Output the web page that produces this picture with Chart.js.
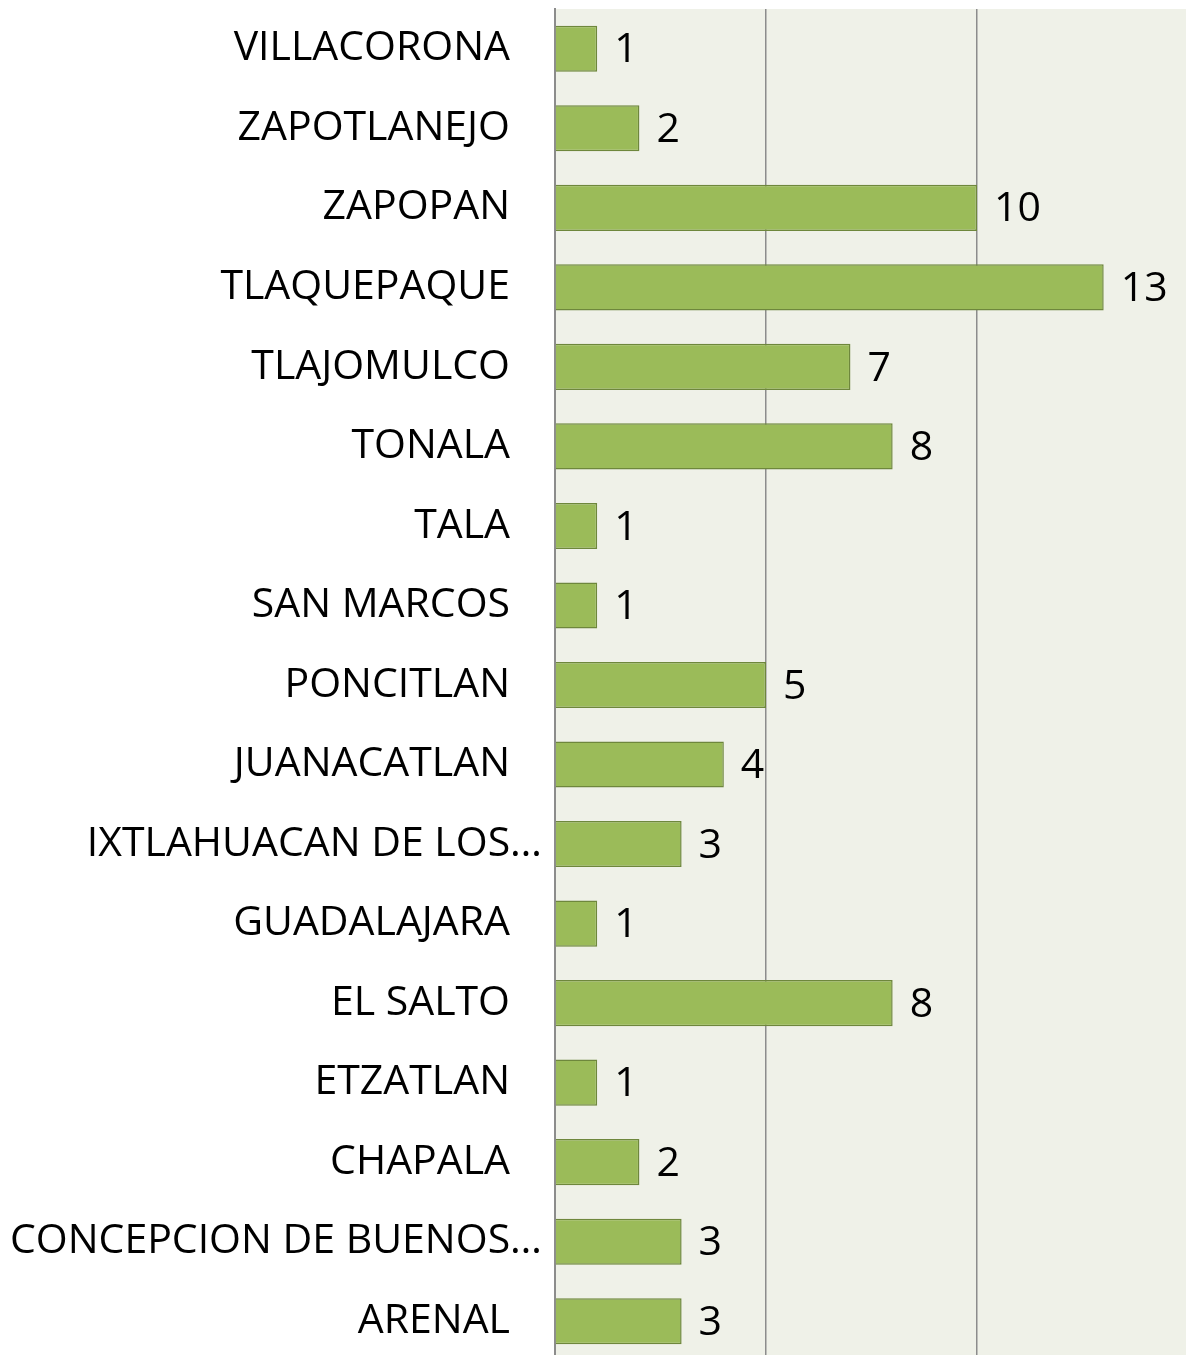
<!DOCTYPE html>
<html>
<head>
<meta charset="utf-8">
<script src="https://cdn.jsdelivr.net/npm/chart.js@4.4.0/dist/chart.umd.min.js"></script>
<style>
  html, body { margin: 0; padding: 0; background: #fff; overflow: hidden; }
  #wrap { width: 1186px; height: 1355px; overflow: hidden; }
</style>
</head>
<body>
<div id="wrap"><canvas id="myChart" width="1186" height="1361"></canvas></div>
<script>
const municipios = [
  'VILLACORONA', 'ZAPOTLANEJO', 'ZAPOPAN', 'TLAQUEPAQUE', 'TLAJOMULCO', 'TONALA',
  'TALA', 'SAN MARCOS', 'PONCITLAN', 'JUANACATLAN', 'IXTLAHUACAN DE LOS…',
  'GUADALAJARA', 'EL SALTO', 'ETZATLAN', 'CHAPALA', 'CONCEPCION DE BUENOS…', 'ARENAL'
];
const casos = [1, 2, 10, 13, 7, 8, 1, 1, 5, 4, 3, 1, 8, 1, 2, 3, 3];
const xTicks = [0, 5, 10, 15];

const FONT = '41px "Open Sans"';

// plot background only behind the chart area
const plotBg = {
  id: 'plotBg',
  beforeDraw(chart) {
    const { ctx, chartArea: a } = chart;
    ctx.save();
    ctx.fillStyle = '#EFF1E8';
    ctx.fillRect(a.left, a.top, a.right - a.left, a.bottom - a.top);
    ctx.restore();
  }
};

// category labels and value labels
const labelsPlugin = {
  id: 'labelsPlugin',
  afterDatasetsDraw(chart) {
    const { ctx } = chart;
    const y = chart.scales.y;
    const meta = chart.getDatasetMeta(0);
    ctx.save();
    ctx.font = FONT;
    ctx.fillStyle = '#000';
    ctx.textBaseline = 'middle';
    municipios.forEach((name, i) => {
      const py = y.getPixelForTick(i);
      ctx.textAlign = 'right';
      const right = name.endsWith('…') ? 542 : 510;
      ctx.fillText(name, right, py);
    });
    meta.data.forEach((bar, i) => {
      ctx.textAlign = 'left';
      ctx.fillText(String(casos[i]), bar.x + 17, bar.y + 2);
    });
    ctx.restore();
  }
};

new Chart(document.getElementById('myChart'), {
  type: 'bar',
  data: {
    labels: municipios,
    datasets: [{
      data: casos,
      backgroundColor: '#9BBB59',
      borderColor: '#6E873C',
      borderWidth: 1.5,
      categoryPercentage: 1,
      barPercentage: 0.58
    }]
  },
  options: {
    indexAxis: 'y',
    responsive: false,
    animation: false,
    layout: { padding: { top: 9, right: 0, bottom: 0, left: 0 } },
    plugins: { legend: { display: false }, tooltip: { enabled: false } },
    scales: {
      x: {
        min: 0,
        max: 14.95,
        afterBuildTicks(scale) { scale.ticks = xTicks.map(v => ({ value: v })); },
        afterFit(scale) { scale.height = 0; },
        ticks: { display: false },
        grid: { color: '#8C8C8C', lineWidth: 1.5, drawTicks: false },
        border: { display: false }
      },
      y: {
        afterFit(scale) { scale.width = 555; },
        ticks: { display: false },
        grid: { display: false, drawTicks: false },
        border: { display: true, color: '#8C8C8C', width: 2 }
      }
    }
  },
  plugins: [plotBg, labelsPlugin]
});
</script>
</body>
</html>
